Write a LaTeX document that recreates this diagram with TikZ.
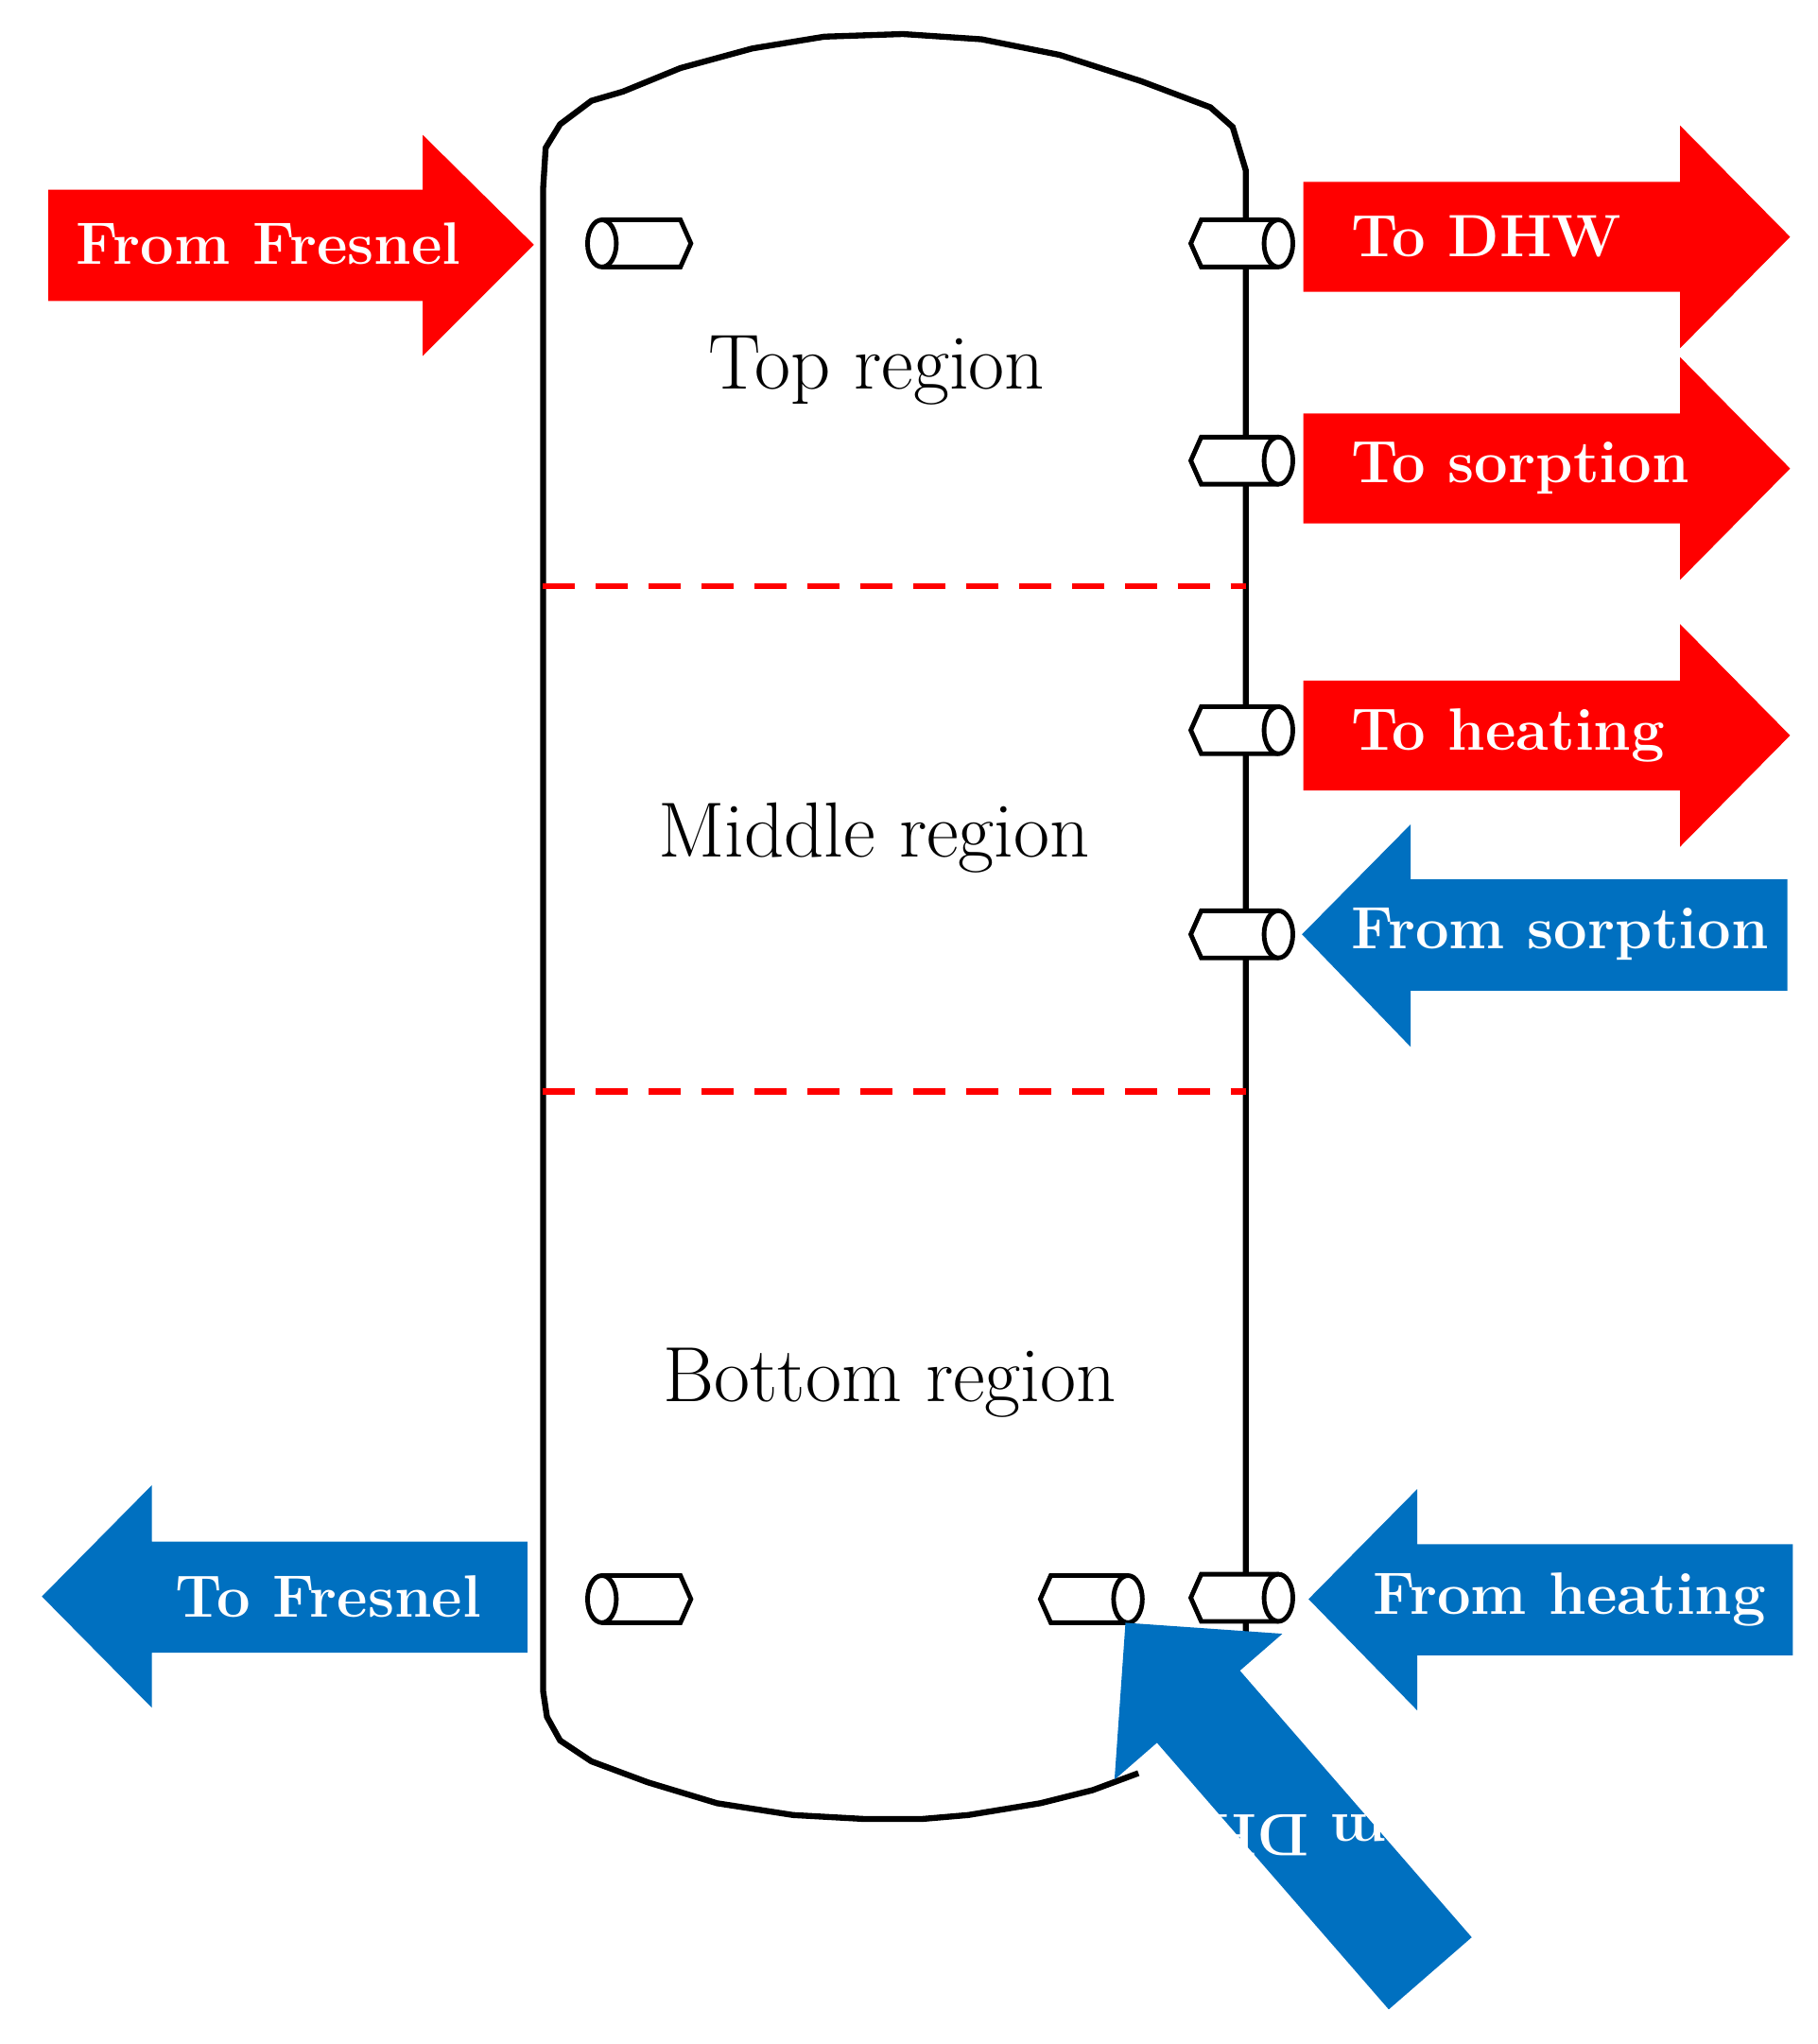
\documentclass[tikz,border=0pt]{standalone}
\begin{document}
\begin{tikzpicture}[x=0.1mm,y=-0.1mm,
  tank/.style={line width=1.3pt,black},
  pipe/.style={line width=1pt,black,fill=white},
  lbl/.style={font=\fontsize{13}{15}\selectfont\bfseries,text=white},
  reg/.style={font=\fontsize{17}{19}\selectfont},
  regsep/.style={red,line width=1.3pt,dash pattern=on 7pt off 4.5pt}]
\definecolor{myblue}{RGB}{0,112,192}
\useasboundingbox (0,0) rectangle (1389,1562);
% tank
\draw[tank] (952,1262) -- (952,130) -- (942,97) -- (925,82) -- (872,62) -- (810,42) -- (750,30) -- (690,26) -- (630,28) -- (575,37) -- (520,52) -- (476,70) -- (452,77) -- (428,95) -- (417,113) -- (415,145) -- (415,1292) -- (418,1312) -- (428,1330) -- (452,1346) -- (495,1362) -- (548,1378) -- (606,1387) -- (660,1390) -- (705,1390) -- (740,1387) -- (795,1378) -- (835,1368) -- (870,1355);
\draw[regsep] (415,448) -- (952,448);
\draw[regsep] (415,834) -- (952,834);
\node[reg] (top) at (670,283) {Top region};
\node[reg] (mid) at (668,640) {Middle region};
\node[reg] (bot) at (680,1057) {Bottom region};
% left pipes (ellipse left)
\foreach \y in {186,1222}{
 \draw[pipe] (460,\y-18) -- (520,\y-18) -- (528,\y) -- (520,\y+18) -- (460,\y+18);
 \draw[pipe] (460,\y) ellipse [x radius=11,y radius=18];}
% right pipes (ellipse right)
\foreach \y in {186,352,558,714,1221}{
 \draw[pipe] (977,\y-18) -- (918,\y-18) -- (910,\y) -- (918,\y+18) -- (977,\y+18);
 \draw[pipe] (977,\y) ellipse [x radius=11,y radius=18];}
\draw[pipe] (862,1204) -- (803,1204) -- (795,1222) -- (803,1240) -- (862,1240);
\draw[pipe] (862,1222) ellipse [x radius=11,y radius=18];
% red arrows
\fill[red] (37,145) -- (323,145) -- (323,103) -- (408,187) -- (323,272) -- (323,230) -- (37,230) -- cycle;
\node[lbl,anchor=west] (ff) at (46,186) {From Fresnel};
\foreach \y/\t/\n in {181/To DHW/td,358/To sorption/ts,562/To heating/th}{
 \fill[red] (996,\y-42) -- (1284,\y-42) -- (1284,\y-85) -- (1368,\y) -- (1284,\y+85) -- (1284,\y+42) -- (996,\y+42) -- cycle;
 \node[lbl,anchor=west] (\n) at (1020,\y) {\t};}
% blue arrows
\fill[myblue] (995,714) -- (1078,630) -- (1078,672) -- (1366,672) -- (1366,757) -- (1078,757) -- (1078,800) -- cycle;
\node[lbl,anchor=east] (fs) at (1364,714) {From sorption};
\fill[myblue] (1000,1222) -- (1083,1138) -- (1083,1180) -- (1370,1180) -- (1370,1265) -- (1083,1265) -- (1083,1307) -- cycle;
\node[lbl,anchor=east] (fh) at (1362,1222) {From heating};
\fill[myblue] (32,1220) -- (116,1135) -- (116,1178) -- (403,1178) -- (403,1263) -- (116,1263) -- (116,1305) -- cycle;
\node[lbl,anchor=east] (tf) at (380,1220) {To Fresnel};
\begin{scope}[shift={(1093,1508)},rotate=131]
 \fill[myblue] (0,-42) -- (270,-42) -- (270,-85) -- (355,0) -- (270,85) -- (270,42) -- (0,42) -- cycle;
 \node[lbl,rotate=180] (fd) at (140,0) {From DHW};
\end{scope}
\end{tikzpicture}
\end{document}
